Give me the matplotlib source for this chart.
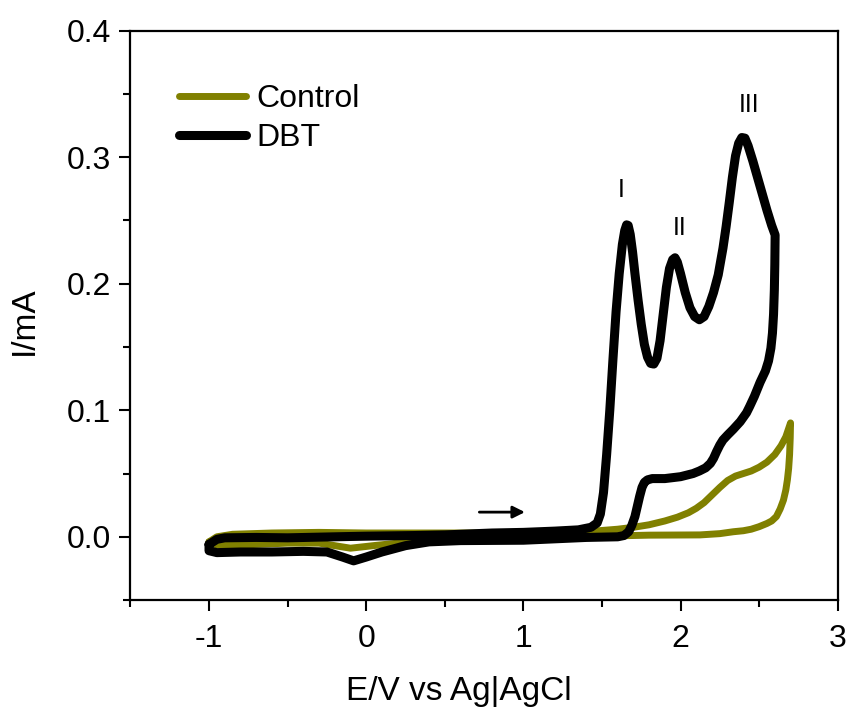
#!/usr/bin/env python3
"""Cyclic voltammograms: control vs DBT, I/mA against E/V vs Ag|AgCl."""

import matplotlib

matplotlib.use("Agg")
import matplotlib.pyplot as plt  # noqa: E402
from matplotlib.ticker import MultipleLocator, FormatStrFormatter  # noqa: E402

plt.rcParams["font.family"] = ["Liberation Sans", "DejaVu Sans"]

# DBT loop: forward scan from -1 V to the 2.6 V vertex, then back
DBT_E = [-1.00, -0.95, -0.90, -0.70, -0.50, -0.20, 0.00, 0.30, 0.50, 0.80, 1.00,
         1.20, 1.35, 1.43, 1.47, 1.49, 1.51, 1.53, 1.55, 1.57, 1.59, 1.61, 1.63,
         1.645, 1.657, 1.667, 1.68, 1.695, 1.71, 1.73, 1.75, 1.77, 1.79, 1.81, 1.83,
         1.85, 1.87, 1.89, 1.91, 1.93, 1.95, 1.965, 1.98, 2.00, 2.03, 2.06, 2.09,
         2.12, 2.15, 2.18, 2.21, 2.24, 2.27, 2.29, 2.31, 2.33, 2.35, 2.37, 2.39,
         2.41, 2.43, 2.46, 2.49, 2.52, 2.55, 2.58, 2.602,
         2.600, 2.597, 2.592, 2.585, 2.575, 2.56, 2.54, 2.506, 2.47, 2.44, 2.42,
         2.38, 2.336, 2.30, 2.27, 2.25, 2.23, 2.21, 2.19, 2.16, 2.12, 2.08, 2.00,
         1.90, 1.82, 1.79, 1.77, 1.755, 1.74, 1.725, 1.71, 1.69, 1.67, 1.64, 1.60,
         1.40, 1.00, 0.60, 0.40, 0.25, 0.10, 0.00, -0.08, -0.15, -0.25, -0.40,
         -0.60, -0.80, -0.95, -1.00, -1.00]
DBT_I = [-0.006, -0.002, -0.0008, -0.0005, -0.0008, 0.0, 0.0005, 0.001, 0.0015,
         0.003, 0.0035, 0.0045, 0.0055, 0.0075, 0.011, 0.018, 0.035, 0.065, 0.100,
         0.140, 0.178, 0.208, 0.231, 0.242, 0.2465, 0.246, 0.239, 0.225, 0.208,
         0.187, 0.168, 0.152, 0.142, 0.137, 0.1365, 0.141, 0.155, 0.176, 0.197,
         0.212, 0.219, 0.2205, 0.217, 0.208, 0.193, 0.181, 0.174, 0.1715, 0.174,
         0.182, 0.193, 0.207, 0.228, 0.245, 0.264, 0.284, 0.301, 0.311, 0.3155,
         0.315, 0.309, 0.297, 0.284, 0.271, 0.258, 0.246, 0.2385,
         0.215, 0.195, 0.176, 0.161, 0.149, 0.139, 0.131, 0.122, 0.111, 0.103,
         0.098, 0.091, 0.085, 0.0805, 0.0765, 0.0725, 0.0675, 0.062, 0.058, 0.0545,
         0.052, 0.050, 0.0475, 0.046, 0.046, 0.045, 0.043, 0.039, 0.032, 0.024,
         0.016, 0.009, 0.004, 0.001, 0.0,
         -0.0005, -0.0027, -0.003, -0.004, -0.007, -0.012, -0.016, -0.019, -0.016,
         -0.012, -0.0115, -0.012, -0.012, -0.0125, -0.011, -0.006]

# control loop
CTRL_E = [-1.00, -0.95, -0.85, -0.60, -0.30, 0.00, 0.50, 1.00, 1.40, 1.60, 1.70,
          1.80, 1.90, 1.98, 2.05, 2.10, 2.15, 2.20, 2.25, 2.30, 2.35, 2.40, 2.45,
          2.50, 2.55, 2.60, 2.64, 2.67, 2.70,
          2.698, 2.694, 2.688, 2.68, 2.67, 2.655, 2.634, 2.61, 2.58, 2.549, 2.50,
          2.45, 2.40, 2.336, 2.25, 2.124, 1.80, 1.50, 1.00, 0.60, 0.40, 0.20, 0.06,
          -0.10, -0.20, -0.30, -0.50, -0.70, -0.85, -0.95, -1.00]
CTRL_I = [-0.004, 0.0, 0.002, 0.003, 0.0035, 0.003, 0.003, 0.003, 0.004, 0.006,
          0.0075, 0.0095, 0.0125, 0.0155, 0.019, 0.0225, 0.027, 0.033, 0.039,
          0.0445, 0.048, 0.050, 0.052, 0.055, 0.059, 0.065, 0.072, 0.079, 0.090,
          0.078, 0.065, 0.054, 0.045, 0.037, 0.029, 0.022, 0.016, 0.0125, 0.0105,
          0.008, 0.006, 0.0048, 0.004, 0.0025, 0.0015, 0.0013, 0.0005, 0.0, -0.001,
          -0.0025, -0.005, -0.0068, -0.009, -0.007, -0.005, -0.005, -0.006,
          -0.0068, -0.0065, -0.004]

PEAK_LABELS = ["I", "II", "III"]
PEAK_E = [1.62, 1.997, 2.436]
PEAK_I = [0.274, 0.244, 0.341]

OLIVE = "#808000"


def main() -> None:
    fig = plt.figure(figsize=(8.47, 7.11), dpi=100)
    ax = fig.add_axes([0.154, 0.156, 0.835, 0.801])

    ax.plot(CTRL_E, CTRL_I, color=OLIVE, lw=5, solid_joinstyle="round",
            solid_capstyle="round", label="Control")
    ax.plot(DBT_E, DBT_I, color="black", lw=6.5, solid_joinstyle="round",
            solid_capstyle="round", label="DBT")

    for lab, e, i in zip(PEAK_LABELS, PEAK_E, PEAK_I):
        ax.text(e, i, lab, fontsize=18, ha="center", va="center")

    ax.annotate("", xy=(1.01, 0.0195), xytext=(0.72, 0.0195),
                arrowprops=dict(arrowstyle="-|>", color="black", lw=2,
                                mutation_scale=18, shrinkA=0, shrinkB=0))

    ax.set_xlim(-1.5, 3)
    ax.set_ylim(-0.05, 0.4)
    ax.xaxis.set_major_locator(MultipleLocator(1))
    ax.xaxis.set_minor_locator(MultipleLocator(0.5))
    ax.yaxis.set_major_locator(MultipleLocator(0.1))
    ax.yaxis.set_minor_locator(MultipleLocator(0.05))
    ax.set_xticks([-1, 0, 1, 2, 3])
    ax.set_xticklabels(["-1", "0", "1", "2", "3"])
    ax.yaxis.set_major_formatter(FormatStrFormatter("%.1f"))

    ax.tick_params(which="major", direction="out", length=8, width=1.5,
                   labelsize=23, pad=6)
    ax.tick_params(which="minor", direction="out", length=5, width=1.5)
    ax.tick_params(axis="x", which="major", pad=9)
    for sp in ax.spines.values():
        sp.set_linewidth(1.6)

    ax.set_xlabel("E/V vs Ag|AgCl", fontsize=24)
    ax.set_ylabel("I/mA", fontsize=24)
    ax.xaxis.set_label_coords(0.465, -0.1325)
    ax.yaxis.set_label_coords(-0.128, 0.491)

    ax.legend(loc="upper left", bbox_to_anchor=(0.051, 0.928), frameon=False,
              fontsize=23, handlelength=2.1, handletextpad=0.3,
              labelspacing=0.28, borderaxespad=0)

    fig.savefig("out.png", dpi=100)


if __name__ == "__main__":
    main()
